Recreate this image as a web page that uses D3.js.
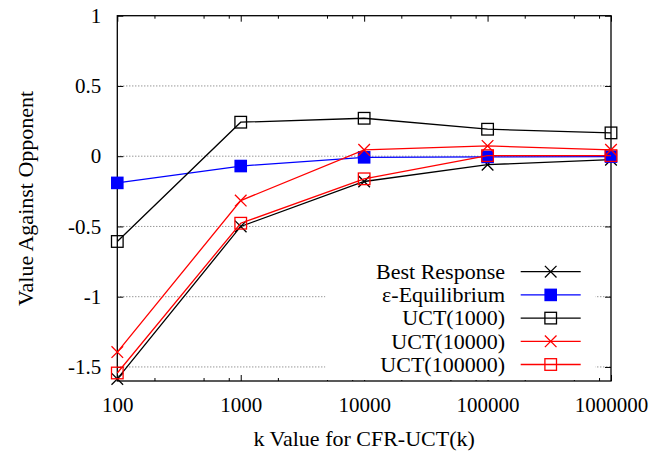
<!DOCTYPE html>
<html>
<head>
<meta charset="utf-8">
<script src="https://cdn.jsdelivr.net/npm/d3@7"></script>
<style>
  body { margin: 0; background: #fff; }
  svg text { font-family: "Liberation Serif", "Times New Roman", Times, serif; fill: #000; }
</style>
</head>
<body>
<div class="chart"></div>
<script>
var svgWidth = 664;
var svgHeight = 453;

var margin = { top: 15.7, right: 53, bottom: 72, left: 117.3 };
var width = svgWidth - margin.left - margin.right;
var height = svgHeight - margin.top - margin.bottom;
var serif = "'Liberation Serif', 'Times New Roman', Times, serif";

// data
var kValues = [100, 1000, 10000, 100000, 1000000];
var bestResponse = [-1.585, -0.50, -0.18, -0.06, -0.025];
var epsEquilibrium = [-0.19, -0.07, -0.008, -0.005, -0.003];
var uct1000 = [-0.607, 0.242, 0.27, 0.192, 0.166];
var uct10000 = [-1.394, -0.316, 0.045, 0.073, 0.045];
var uct100000 = [-1.543, -0.477, -0.161, 0.004, 0.004];
var seriesNames = ["Best Response", "\u03b5-Equilibrium", "UCT(1000)", "UCT(10000)", "UCT(100000)"];
var yTicks = [-1.5, -1, -0.5, 0, 0.5, 1];
var yTickLabels = ["-1.5", "-1", "-0.5", "0", "0.5", "1"];
var xTicks = [100, 1000, 10000, 100000, 1000000];
var xTickLabels = ["100", "1000", "10000", "100000", "1000000"];

var series = [
  { name: seriesNames[0], values: bestResponse, color: "#000", marker: "cross" },
  { name: seriesNames[1], values: epsEquilibrium, color: "#0000ff", marker: "fillsquare" },
  { name: seriesNames[2], values: uct1000, color: "#000", marker: "square" },
  { name: seriesNames[3], values: uct10000, color: "#ff0000", marker: "cross" },
  { name: seriesNames[4], values: uct100000, color: "#ff0000", marker: "square" }
];

var svg = d3.select(".chart")
  .append("svg")
  .attr("width", svgWidth)
  .attr("height", svgHeight);

var chartGroup = svg.append("g")
  .attr("transform", `translate(${margin.left}, ${margin.top})`);

var x = d3.scaleLog().domain([100, 1000000]).range([0, width]);
var y = d3.scaleLinear().domain([-1.6, 1]).range([height, 0]);

// minor ticks at 2, 5, 8 of each decade
var minorTicks = [];
for (var d = 100; d < 1000000; d *= 10) {
  minorTicks.push(2 * d, 5 * d, 8 * d);
}

// dotted grid
chartGroup.selectAll(".grid")
  .data(yTicks.filter(t => t < 1))
  .enter().append("line")
  .attr("x1", 0).attr("x2", width)
  .attr("y1", d => y(d)).attr("y2", d => y(d))
  .attr("stroke", "#444")
  .attr("stroke-width", 0.8)
  .attr("stroke-dasharray", "1,2");

// axes with mirrored ticks
function styleAxis(g) {
  g.attr("font-family", serif);
  g.select(".domain").remove();
  g.selectAll(".tick line").attr("stroke", "#000").attr("stroke-width", 1);
  g.selectAll(".tick text").attr("font-size", 21).style("font-family", serif);
}

chartGroup.append("g")
  .attr("transform", `translate(0, ${height})`)
  .call(d3.axisBottom(x).tickValues(xTicks).tickFormat((d, i) => xTickLabels[i]).tickSize(-6).tickPadding(16))
  .call(styleAxis);
chartGroup.append("g")
  .call(d3.axisTop(x).tickValues(xTicks).tickFormat("").tickSize(-6))
  .call(styleAxis);
chartGroup.append("g")
  .attr("transform", `translate(0, ${height})`)
  .call(d3.axisBottom(x).tickValues(minorTicks).tickFormat("").tickSize(-3))
  .call(styleAxis);
chartGroup.append("g")
  .call(d3.axisTop(x).tickValues(minorTicks).tickFormat("").tickSize(-3))
  .call(styleAxis);
chartGroup.append("g")
  .call(d3.axisLeft(y).tickValues(yTicks).tickFormat((d, i) => yTickLabels[i]).tickSize(-6).tickPadding(16))
  .call(styleAxis);
chartGroup.append("g")
  .attr("transform", `translate(${width}, 0)`)
  .call(d3.axisRight(y).tickValues(yTicks).tickFormat("").tickSize(-6))
  .call(styleAxis);

// legend box (opaque, hides grid)
var legendX = 208, legendY = 240;
chartGroup.append("rect")
  .attr("x", legendX).attr("y", legendY)
  .attr("width", 270).attr("height", height - legendY - 1)
  .attr("fill", "#fff");

// border
chartGroup.append("rect")
  .attr("width", width).attr("height", height)
  .attr("fill", "none")
  .attr("stroke", "#000")
  .attr("stroke-width", 1.3);

function drawMarker(g, type, color, cx, cy) {
  var s = 5.8;
  if (type === "cross") {
    g.append("path")
      .attr("d", `M${cx - s},${cy - s}L${cx + s},${cy + s}M${cx - s},${cy + s}L${cx + s},${cy - s}`)
      .attr("stroke", color).attr("stroke-width", 1.3).attr("fill", "none");
  } else if (type === "square") {
    g.append("rect")
      .attr("x", cx - s).attr("y", cy - s).attr("width", 2 * s).attr("height", 2 * s)
      .attr("stroke", color).attr("stroke-width", 1.3).attr("fill", "none");
  } else {
    g.append("rect")
      .attr("x", cx - s - 0.5).attr("y", cy - s - 0.5).attr("width", 2 * s + 1).attr("height", 2 * s + 1)
      .attr("fill", color);
  }
}

var line = d3.line()
  .x((d, i) => x(kValues[i]))
  .y(d => y(d));

series.forEach(function(s) {
  var g = chartGroup.append("g");
  g.append("path")
    .attr("d", line(s.values))
    .attr("fill", "none")
    .attr("stroke", s.color)
    .attr("stroke-width", 1.3);
  s.values.forEach(function(v, i) {
    drawMarker(g, s.marker, s.color, x(kValues[i]), y(v));
  });
});

// legend entries
series.forEach(function(s, i) {
  var ly = 271.7 - margin.top + i * 23.2;
  var g = chartGroup.append("g");
  g.append("text")
    .attr("x", 505 - margin.left)
    .attr("y", ly)
    .attr("dy", "0.33em")
    .attr("text-anchor", "end")
    .attr("font-size", 22)
    .style("font-family", serif)
    .text(s.name);
  g.append("line")
    .attr("x1", 520.7 - margin.left).attr("x2", 580.7 - margin.left)
    .attr("y1", ly).attr("y2", ly)
    .attr("stroke", s.color).attr("stroke-width", 1.3);
  drawMarker(g, s.marker, s.color, 550.7 - margin.left, ly);
});

// axis labels
svg.append("text")
  .attr("transform", `translate(33, ${margin.top + height / 2}) rotate(-90)`)
  .attr("text-anchor", "middle")
  .attr("font-size", 22)
  .style("font-family", serif)
  .text("Value Against Opponent");

svg.append("text")
  .attr("x", margin.left + width / 2)
  .attr("y", 446)
  .attr("text-anchor", "middle")
  .attr("font-size", 22)
  .style("font-family", serif)
  .text("k Value for CFR-UCT(k)");
</script>
</body>
</html>
